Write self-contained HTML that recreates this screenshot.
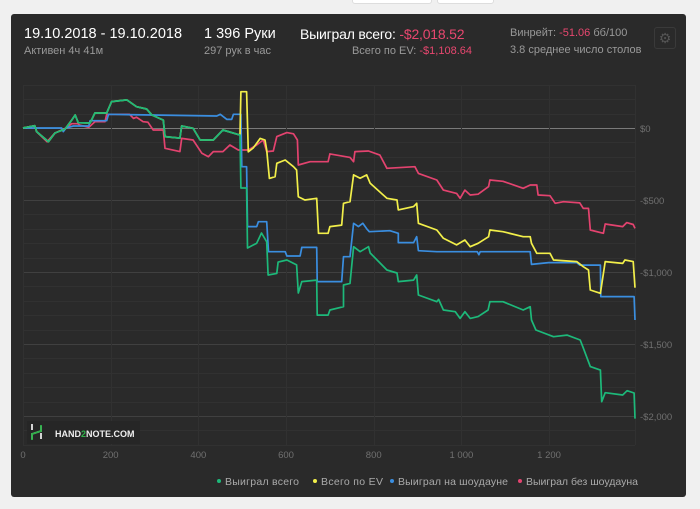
<!DOCTYPE html>
<html><head><meta charset="utf-8"><style>
html,body{margin:0;padding:0;background:#f0f0f0;width:700px;height:509px;overflow:hidden;font-family:"Liberation Sans","DejaVu Sans",sans-serif}
.card{position:absolute;left:11px;top:14px;width:675px;height:483px;background:#2a2a2a;border-radius:3px}
.t{position:absolute;white-space:nowrap}
.btn{position:absolute;top:-4px;height:6px;background:#fff;border:1px solid #ddd;border-radius:3px}
</style></head><body>
<div class="btn" style="left:352px;width:78px"></div>
<div class="btn" style="left:437px;width:55px"></div>
<div class="card"></div>
<div class="t" style="left:24px;top:26px;font-size:14.5px;color:#fff">19.10.2018 - 19.10.2018</div>
<div class="t" style="left:24px;top:45px;font-size:11px;color:#999">Активен 4ч 41м</div>
<div class="t" style="left:204px;top:26px;font-size:14.5px;color:#fff">1 396 Руки</div>
<div class="t" style="left:204px;top:45px;font-size:11px;color:#999">297 рук в час</div>
<div class="t" style="left:300px;top:26px;font-size:14px;color:#fff;letter-spacing:-0.2px">Выиграл всего: <span style="color:#e8476f">-$2,018.52</span></div>
<div class="t" style="right:228px;top:45px;font-size:11px;color:#999">Всего по EV: <span style="color:#e8476f">-$1,108.64</span></div>
<div class="t" style="left:510px;top:27px;font-size:11px;color:#999">Винрейт: <span style="color:#e8476f">-51.06</span> бб/100</div>
<div class="t" style="left:510px;top:44px;font-size:11px;color:#999">3.8 среднее число столов</div>
<div class="t" style="left:654px;top:27px;width:20px;height:20px;border:1px solid #3a3a3a;border-radius:3px;color:#555;font-size:14px;text-align:center;line-height:20px">⚙</div>
<svg id="chart" width="700" height="509" style="position:absolute;left:0;top:0"></svg>
<script>
const ticksX=[0,200,400,600,800,1000,1200];
const tickLabelsX=["0","200","400","600","800","1 000","1 200"];
const ticksY=[0,-500,-1000,-1500,-2000];
const tickLabelsY=["$0","-$500","-$1,000","-$1,500","-$2,000"];
const seriesNames=["Выиграл всего","Всего по EV","Выиграл на шоудауне","Выиграл без шоудауна"];
const seriesColors=["#1db97a","#f2ef4a","#3a8ee0","#e3436f"];
const earlyHands=[0,27,31,58,73,96,111,119,126,153,164,191,202,237,259,282,294,320,324,358,362,388,404,434,456,495];
const earlyVals=[0,16,-25,-95,-35,-7,55,90,37,35,104,104,183,195,148,132,90,55,-60,-70,14,-2,-83,-83,-14,-49];
const wonHands=[497,510,512,533,544,556,559,579,582,602,624,628,636,670,671,696,700,731,731,746,754,769,788,792,830,853,856,891,898,902,944,948,959,986,997,1008,1020,1038,1061,1065,1095,1141,1157,1160,1170,1210,1241,1271,1277,1294,1317,1320,1328,1368,1378,1394,1396];
const wonVals=[-417,-417,-833,-800,-729,-790,-1021,-1010,-931,-917,-951,-1146,-1067,-1056,-1299,-1299,-1264,-1241,-1090,-1079,-824,-859,-824,-868,-986,-1007,-1067,-1056,-1021,-1160,-1206,-1190,-1264,-1276,-1322,-1276,-1322,-1310,-1264,-1206,-1206,-1264,-1241,-1333,-1403,-1449,-1438,-1472,-1519,-1657,-1681,-1901,-1838,-1854,-1824,-1840,-2018];
const evHands=[497,510,514,525,541,552,556,562,575,579,598,617,624,628,643,670,674,696,700,727,731,746,754,769,784,792,830,853,856,891,898,902,944,959,989,1008,1020,1038,1062,1065,1095,1141,1157,1160,1172,1202,1210,1263,1278,1290,1294,1317,1328,1368,1373,1392,1396];
const evVals=[252,252,-165,-139,-72,-83,-153,-350,-338,-245,-222,-269,-292,-477,-500,-488,-731,-731,-685,-674,-523,-512,-326,-349,-326,-384,-488,-500,-569,-546,-523,-662,-708,-766,-812,-778,-824,-801,-755,-708,-720,-755,-755,-801,-870,-870,-917,-928,-963,-986,-1125,-1148,-928,-940,-917,-928,-1109];
const sdHands=[0,88,92,98,115,150,153,191,195,442,450,465,476,480,497,499,510,512,533,537,556,560,598,602,632,636,670,671,727,731,746,754,765,775,784,790,837,856,856,891,898,902,944,1036,1040,1043,1157,1160,1199,1263,1270,1317,1318,1394,1396];
const sdVals=[0,0,-25,0,14,14,51,51,95,83,95,60,60,95,95,-269,-269,-685,-685,-651,-651,-859,-859,-889,-889,-829,-829,-1067,-1067,-894,-894,-662,-685,-662,-700,-720,-713,-731,-796,-796,-755,-852,-859,-859,-880,-859,-859,-947,-935,-935,-952,-952,-1171,-1171,-1333];
const nsdHands=[0,27,31,55,73,98,111,125,129,150,164,187,191,243,252,259,274,285,297,320,324,358,362,388,408,423,434,456,472,491,514,533,548,556,571,579,602,617,626,628,655,696,700,746,754,757,788,814,830,894,902,944,959,989,997,1008,1020,1038,1062,1065,1095,1141,1157,1172,1175,1202,1214,1233,1270,1278,1290,1294,1324,1328,1368,1377,1392,1396];
const nsdVals=[0,16,-25,-95,-35,0,30,30,20,5,44,44,95,95,67,75,44,40,-14,-14,-141,-164,-72,-83,-176,-199,-164,-164,-118,-153,-153,-118,-83,-164,-160,-60,-32,-40,-83,-257,-234,-234,-180,-204,-234,-164,-160,-188,-280,-269,-315,-361,-431,-454,-488,-431,-465,-460,-407,-361,-370,-419,-396,-396,-465,-470,-523,-512,-520,-558,-558,-708,-731,-667,-685,-657,-670,-697];

const NS="http://www.w3.org/2000/svg";
const svg=document.getElementById('chart');
const X0=23,X1=635,Y0=128,PPU=72/500,TOP=85,BOT=445,MAXH=1396;
function sx(h){return X0+h*(X1-X0)/MAXH;}
function sy(v){return Y0-v*PPU;}
function mk(tag,attrs){const e=document.createElementNS(NS,tag);for(const k in attrs)e.setAttribute(k,attrs[k]);svg.appendChild(e);return e;}
for(let v=300;v>=-2200;v-=100){
  const y=Math.round(sy(v))+0.5;if(y<TOP-1||y>BOT+1)continue;
  const major=(v%500===0);
  const l=mk('line',{x1:X0,x2:X1,y1:y,y2:y,stroke:v===0?'#7a7a7a':(major?'#404040':'#313131'),'stroke-width':1});
  
  
}
for(let i=0;i<ticksX.length;i++){
  const x=sx(ticksX[i]);
  const xc=Math.round(x)+0.5;
  const l=mk('line',{x1:xc,x2:xc,y1:TOP,y2:BOT,stroke:'#313131','stroke-width':1});
  
  
  const t=mk('text',{x:x,y:458,fill:'#707070','font-size':9.5,'text-anchor':'middle'});
  t.textContent=tickLabelsX[i];
  
  
}
const rl=mk('line',{x1:X1+0.5,x2:X1+0.5,y1:TOP,y2:BOT,stroke:'#313131'});


for(let i=0;i<ticksY.length;i++){
  const t=mk('text',{x:640,y:sy(ticksY[i])+4,fill:'#707070','font-size':9.5});
  t.textContent=tickLabelsY[i];
  
  
}
const lg=mk('rect',{x:27,y:421,width:113,height:23,fill:'#262626'});


const lp=mk('path',{d:'M32 424 v6 M41 433 v6 M32 439 v-5 l9-3 v-5',stroke:'#fff','stroke-width':1.6,fill:'none'});


const lp2=mk('path',{d:'M32 440 v-6 l9-3 v-6',stroke:'#2fb24a','stroke-width':1.8,fill:'none'});


const lt=mk('text',{x:55,y:437,fill:'#eee','font-size':9,'font-weight':'bold'});
lt.innerHTML='HAND<tspan fill="#2fb24a">2</tspan>NOTE.COM';


function line(hs,vs,color,name){
  const pts=hs.map((h,i)=>sx(h).toFixed(1)+','+sy(vs[i]).toFixed(1)).join(' ');
  const p=mk('polyline',{points:pts,fill:'none',stroke:color,'stroke-width':1.7,'stroke-linejoin':'round'});
  
  
}
line(nsdHands,nsdVals,seriesColors[3],'series-won-without-showdown');
line(sdHands,sdVals,seriesColors[2],'series-won-at-showdown');
line(earlyHands.concat(evHands),earlyVals.concat(evVals),seriesColors[1],'series-all-in-ev');
line(earlyHands.concat(wonHands),earlyVals.concat(wonVals),seriesColors[0],'series-total-won');
const legX=[217,313,390,518];
for(let i=0;i<4;i++){
  const c=mk('circle',{cx:legX[i]+2,cy:481,r:2,fill:seriesColors[i]});
  
  
  const t=mk('text',{x:legX[i]+8,y:485,fill:'#aaa','font-size':10.5,textLength:[74,62,110,112][i]});
  t.textContent=seriesNames[i];
  
  
}
</script>
</body></html>
